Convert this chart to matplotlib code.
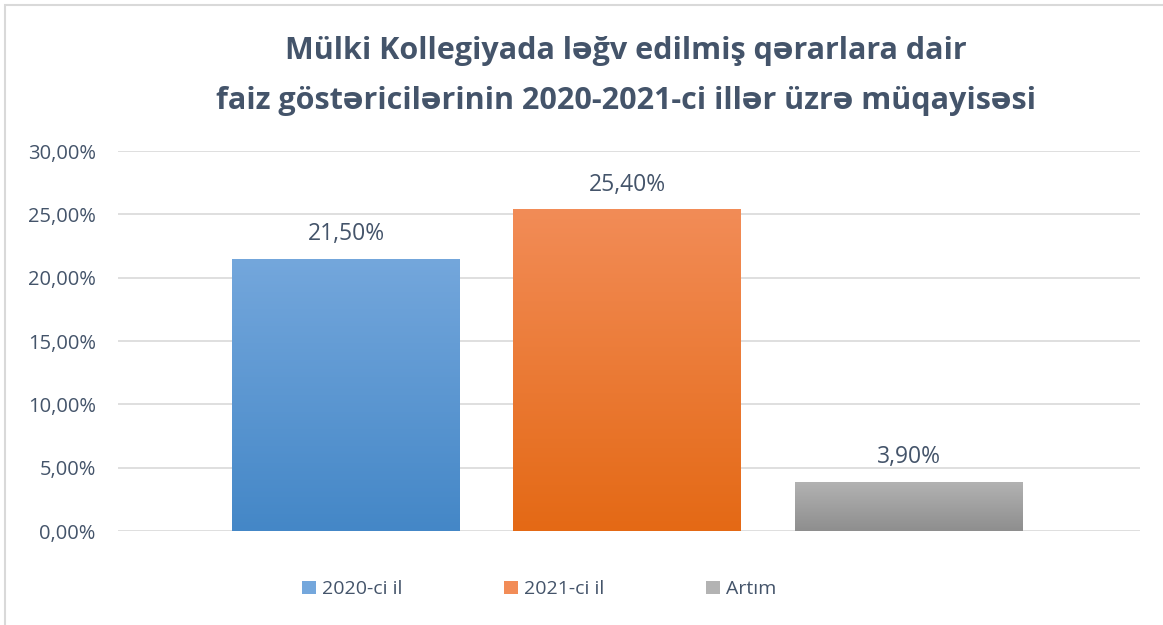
import numpy as np
import matplotlib.pyplot as plt
from matplotlib.patches import Rectangle, Patch
from matplotlib.colors import LinearSegmentedColormap

series = ['2020-ci il', '2021-ci il', 'Artım']
values = [21.5, 25.4, 3.9]
labels = ['21,50%', '25,40%', '3,90%']
yticks = [0, 5, 10, 15, 20, 25, 30]
ytick_labels = ['0,00%', '5,00%', '10,00%', '15,00%', '20,00%', '25,00%', '30,00%']

# gradient colours (top, bottom)
grads = [('#74A7DC', '#4487C7'), ('#F28C57', '#E46915'), ('#B3B3B3', '#8E8E8E')]
txt = '#44546A'

plt.rcParams['font.family'] = ['Open Sans', 'DejaVu Sans']

fig = plt.figure(figsize=(11.63, 6.25), dpi=100)
ax = fig.add_axes([0.1015, 0.1504, 0.8785, 0.608])

x = np.arange(len(values))
width = 0.81
bars = ax.bar(x, values, width=width, color='none', zorder=3)

grad = np.linspace(0, 1, 256).reshape(-1, 1)
for b, (top, bot) in zip(bars, grads):
    cmap = LinearSegmentedColormap.from_list('g', [bot, top])
    bx, by = b.get_x(), b.get_y()
    im = ax.imshow(grad, cmap=cmap, aspect='auto', origin='lower',
                   extent=[bx, bx + b.get_width(), by, by + b.get_height()], zorder=3)
    im.set_clip_path(b)

for xi, v, lab in zip(x, values, labels):
    ax.text(xi, v + 1.0, lab, ha='center', va='bottom', fontsize=16.5, color=txt)

ax.set_xlim(-0.81, 2.82)
ax.set_ylim(0, 30)
ax.set_yticks(yticks)
ax.set_yticklabels(ytick_labels, fontsize=14.5, color=txt)
ax.set_xticks([])
ax.tick_params(axis='y', length=0, pad=16)
ax.grid(axis='y', color='#D9D9D9', linewidth=1.2, zorder=0)
for s in ax.spines.values():
    s.set_visible(False)

fig.text(0.538, 0.918, 'Mülki Kollegiyada ləğv edilmiş qərarlara dair',
         ha='center', va='center', fontsize=22, fontweight='bold', color=txt)
fig.text(0.538, 0.838, 'faiz göstəricilərinin 2020-2021-ci illər üzrə müqayisəsi',
         ha='center', va='center', fontsize=22, fontweight='bold', color=txt)

handles = [Patch(facecolor=c[0], label=s) for s, c in zip(series, grads)]
fig.legend(handles=handles, loc='center left', bbox_to_anchor=(0.26, 0.057), ncol=3,
           frameon=False, fontsize=14, labelcolor=txt, handlelength=0.7,
           handleheight=0.7, handletextpad=0.3, columnspacing=5.25,
           borderpad=0, borderaxespad=0)

fig.patches.append(Rectangle((0.004, -0.01), 1.1, 1.002, transform=fig.transFigure,
                             fill=False, edgecolor='#D9D9D9', linewidth=1.5))

fig.savefig('out.png', dpi=100)
